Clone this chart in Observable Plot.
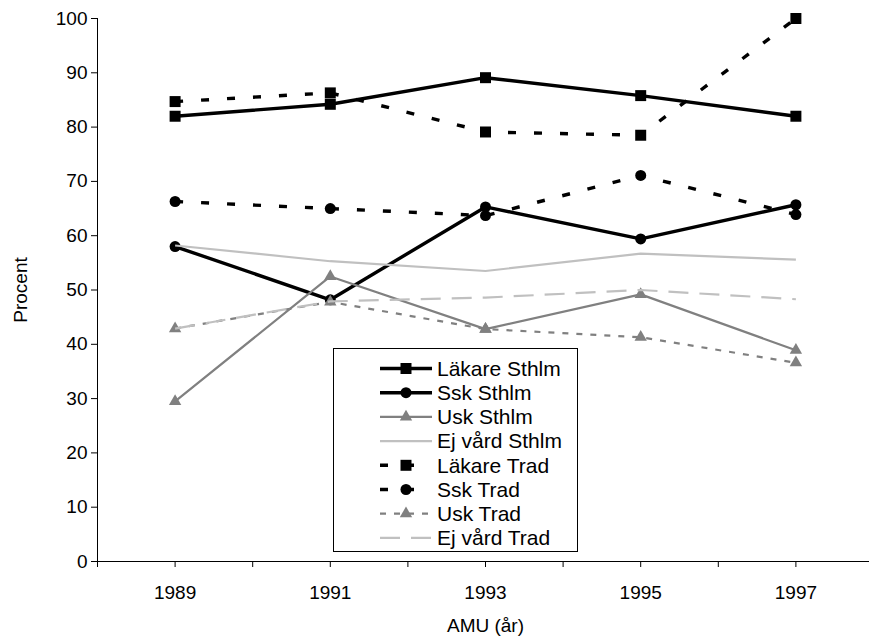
<!DOCTYPE html>
<html><head><meta charset="utf-8">
<script src="https://cdn.jsdelivr.net/npm/d3@7"></script>
<script src="https://cdn.jsdelivr.net/npm/@observablehq/plot@0.6"></script>
<style>
body{margin:0;background:#fff;}
svg{font-family:"Liberation Sans",Arial,sans-serif;}
</style>
</head><body><div id="chart"></div>
<script>
// ---- data ----
const years = [1989, 1991, 1993, 1995, 1997];
const seriesNames = ["Läkare Sthlm", "Ssk Sthlm", "Usk Sthlm", "Ej vård Sthlm",
                     "Läkare Trad", "Ssk Trad", "Usk Trad", "Ej vård Trad"];
const lakareSthlm = [82.0, 84.2, 89.1, 85.8, 82.0];
const sskSthlm    = [58.0, 48.2, 65.3, 59.4, 65.7];
const uskSthlm    = [29.5, 52.5, 42.8, 49.2, 38.9];
const ejVardSthlm = [58.2, 55.3, 53.5, 56.7, 55.6];
const lakareTrad  = [84.7, 86.3, 79.1, 78.5, 100.0];
const sskTrad     = [66.3, 65.0, 63.7, 71.1, 63.9];
const uskTrad     = [42.9, 47.8, 42.8, 41.3, 36.6];
const ejVardTrad  = [42.9, 47.9, 48.6, 50.0, 48.3];
const yTicks = [0, 10, 20, 30, 40, 50, 60, 70, 80, 90, 100];
const xTicks = [1988, 1989, 1990, 1991, 1992, 1993, 1994, 1995, 1996, 1997, 1998];
const xLabelYears = [1989, 1991, 1993, 1995, 1997];
const yTitle = "Procent";
const xTitle = "AMU (år)";

// ---- styles (kept separate from data) ----
const styles = [
  {stroke: "#000", width: 3.4, dash: null, symbol: "square", r: 6.2, fill: "#000"},
  {stroke: "#000", width: 3.4, dash: null, symbol: "circle", r: 5.5, fill: "#000"},
  {stroke: "#808080", width: 2.2, dash: null, symbol: "triangle", r: 4.6, fill: "#808080"},
  {stroke: "#c0c0c0", width: 2.2, dash: null, symbol: null},
  {stroke: "#000", width: 3.4, dash: "8,18", symbol: "square", r: 6.2, fill: "#000"},
  {stroke: "#000", width: 3.4, dash: "8,18", symbol: "circle", r: 5.5, fill: "#000"},
  {stroke: "#808080", width: 2.2, dash: "6,8", symbol: "triangle", r: 4.6, fill: "#808080"},
  {stroke: "#c0c0c0", width: 2.2, dash: "20,11", symbol: null}
];
const allValues = [lakareSthlm, sskSthlm, uskSthlm, ejVardSthlm, lakareTrad, sskTrad, uskTrad, ejVardTrad];
const tables = allValues.map((vals, i) => years.map((yr, j) => ({year: yr, value: vals[j], series: seriesNames[i]})));

const marks = [];
tables.forEach((t, i) => {
  const s = styles[i];
  marks.push(Plot.line(t, {x: "year", y: "value", stroke: s.stroke, strokeWidth: s.width,
    strokeDasharray: s.dash || undefined, strokeLinecap: "butt", strokeLinejoin: "round"}));
  if (s.symbol) marks.push(Plot.dot(t, {x: "year", y: "value", symbol: () => s.symbol, r: s.r, fill: s.fill, stroke: "none"}));
});

const fontSize = 19;
const chart = Plot.plot({
  width: 869, height: 641,
  marginLeft: 97, marginRight: 0, marginTop: 18, marginBottom: 80,
  style: {fontFamily: '"Liberation Sans",Arial,sans-serif', fontSize: fontSize + "px", color: "#000", background: "#fff"},
  x: {domain: [1988, 1998], range: [97, 873]},
  y: {domain: [0, 100], range: [561, 18]},
  symbol: {type: "identity"},
  marks: [
    Plot.axisY({ticks: yTicks, tickSize: 6, tickPadding: 4, label: null, fontSize: fontSize, stroke: "#000"}),
    Plot.axisX({ticks: xTicks, tickSize: 6, tickPadding: 18, label: null, fontSize: fontSize,
      tickFormat: d => xLabelYears.includes(d) ? String(d) : ""}),
    Plot.ruleX([1988], {stroke: "#000", strokeWidth: 1}),
    Plot.ruleY([0], {stroke: "#000", strokeWidth: 1}),
    ...marks,
    Plot.text([yTitle], {x: 1988, y: 50, dx: -77, rotate: -90, text: d => d, fontSize: fontSize, fill: "#000"}),
    Plot.text([xTitle], {x: 1993, y: 0, dy: 64, text: d => d, fontSize: fontSize, fill: "#000"})
  ]
});
document.getElementById("chart").appendChild(chart);

// ---- legend ----
const svg = d3.select(chart);
const lg = svg.append("g").attr("text-anchor", "start");
const box = {x: 333.5, y: 348.5, w: 244, h: 203};
lg.append("rect").attr("x", box.x).attr("y", box.y).attr("width", box.w).attr("height", box.h)
  .attr("fill", "#fff").attr("stroke", "#000").attr("stroke-width", 1);
const row0 = 368.5, rowStep = 24.2, sx0 = 380, sx1 = 432, tx = 437;
const symMap = {square: d3.symbolSquare, circle: d3.symbolCircle, triangle: d3.symbolTriangle};
seriesNames.forEach((name, i) => {
  const s = styles[i];
  const y = row0 + i * rowStep;
  lg.append("line").attr("x1", sx0).attr("x2", sx1).attr("y1", y).attr("y2", y)
    .attr("stroke", s.stroke).attr("stroke-width", s.width)
    .attr("stroke-dasharray", s.dash).attr("stroke-linecap", "butt");
  if (s.symbol) {
    lg.append("path").attr("d", d3.symbol(symMap[s.symbol], Math.PI * s.r * s.r)())
      .attr("transform", `translate(${(sx0 + sx1) / 2},${y})`).attr("fill", s.fill);
  }
  lg.append("text").attr("x", tx).attr("y", y).attr("dy", "0.35em").attr("text-anchor", "start")
    .attr("font-size", 21).attr("fill", "#000").text(name);
});
</script>
</body></html>
